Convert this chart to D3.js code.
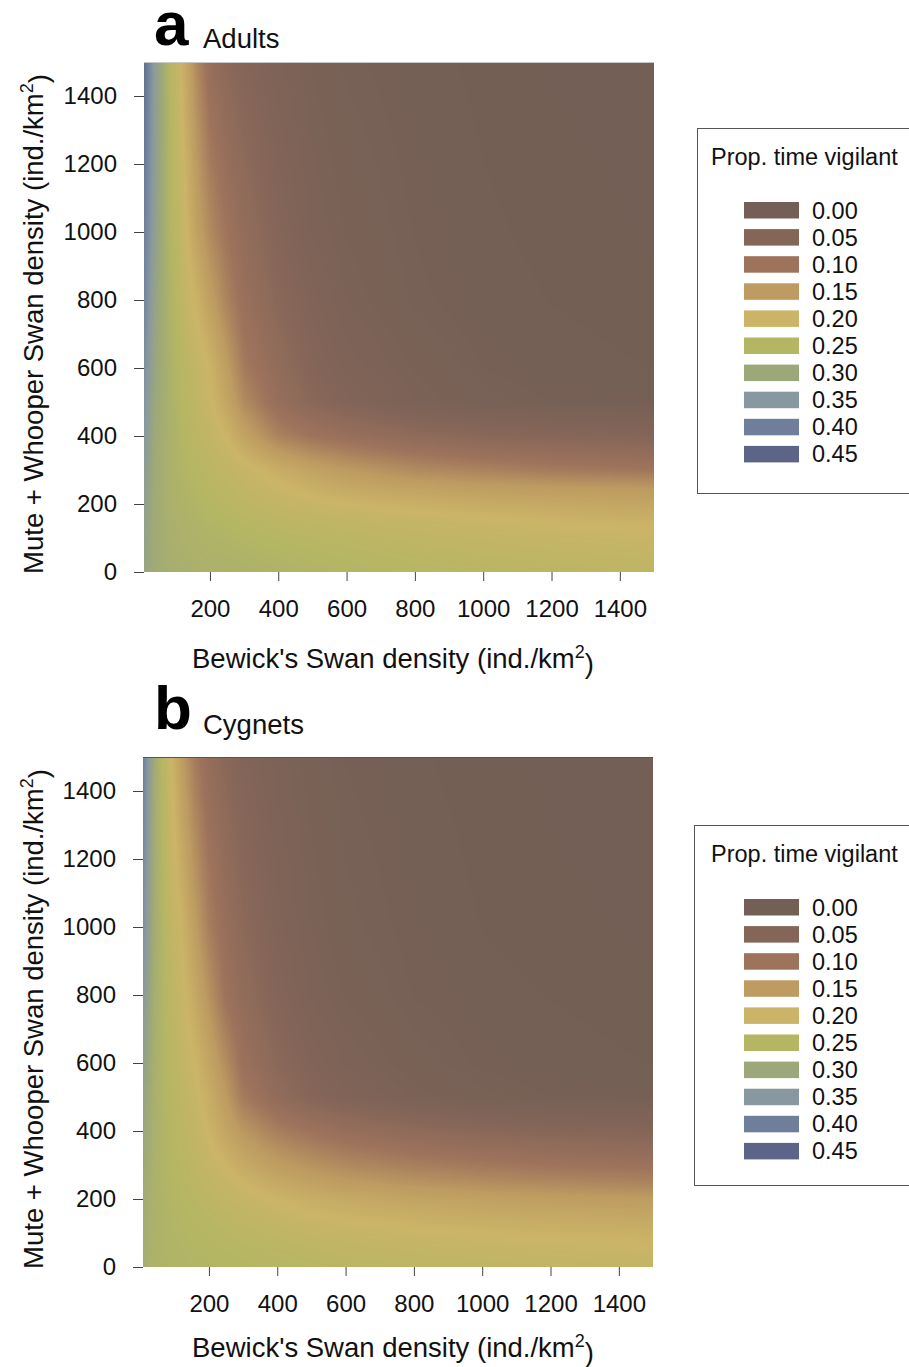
<!DOCTYPE html>
<html>
<head>
<meta charset="utf-8">
<script src="https://cdnjs.cloudflare.com/ajax/libs/d3/7.8.5/d3.min.js"></script>
<style>
  body { margin: 0; background: #fff; }
  svg { display: block; font-family: "Liberation Sans", Arial, sans-serif; }
</style>
</head>
<body>
<svg id="chart" width="909" height="1367"></svg>
<script>
// grid columns: Bewick's Swan density (ind./km2)
var bewickDensity = [7, 40, 80, 120, 160, 200, 250, 300, 400, 500, 600, 800, 1000, 1200, 1500];
// grid rows: Mute + Whooper Swan density (ind./km2), top of the plot first
var muteWhooperDensity = [1500, 1000, 800, 600, 500, 400, 300, 250, 200, 150, 100, 50, 0];

// predicted proportion of time vigilant
var vigilantAdults = [
  [0.43, 0.335, 0.255, 0.19, 0.13, 0.085, 0.063, 0.05, 0.032, 0.02, 0.012, 0.006, 0.003, 0.001, 0.0],
  [0.40, 0.325, 0.26, 0.215, 0.165, 0.13, 0.10, 0.078, 0.05, 0.03, 0.02, 0.01, 0.005, 0.003, 0.001],
  [0.39, 0.315, 0.265, 0.225, 0.195, 0.16, 0.12, 0.09, 0.06, 0.04, 0.025, 0.012, 0.006, 0.004, 0.002],
  [0.37, 0.305, 0.27, 0.24, 0.22, 0.197, 0.155, 0.11, 0.075, 0.05, 0.035, 0.02, 0.01, 0.006, 0.004],
  [0.36, 0.30, 0.27, 0.245, 0.225, 0.205, 0.17, 0.13, 0.085, 0.06, 0.045, 0.025, 0.015, 0.01, 0.008],
  [0.35, 0.295, 0.27, 0.25, 0.235, 0.22, 0.198, 0.165, 0.12, 0.10, 0.088, 0.07, 0.06, 0.055, 0.05],
  [0.34, 0.29, 0.27, 0.255, 0.245, 0.235, 0.225, 0.212, 0.185, 0.165, 0.15, 0.13, 0.12, 0.11, 0.103],
  [0.335, 0.29, 0.27, 0.26, 0.25, 0.24, 0.232, 0.222, 0.204, 0.188, 0.175, 0.162, 0.155, 0.15, 0.146],
  [0.33, 0.29, 0.27, 0.262, 0.255, 0.248, 0.24, 0.232, 0.218, 0.208, 0.20, 0.19, 0.182, 0.176, 0.17],
  [0.325, 0.29, 0.272, 0.265, 0.26, 0.255, 0.25, 0.245, 0.235, 0.228, 0.222, 0.212, 0.205, 0.198, 0.192],
  [0.32, 0.29, 0.273, 0.268, 0.264, 0.26, 0.256, 0.252, 0.245, 0.24, 0.235, 0.226, 0.219, 0.213, 0.207],
  [0.315, 0.29, 0.275, 0.27, 0.267, 0.265, 0.262, 0.259, 0.254, 0.25, 0.245, 0.236, 0.23, 0.224, 0.218],
  [0.31, 0.29, 0.277, 0.273, 0.27, 0.268, 0.266, 0.264, 0.26, 0.255, 0.251, 0.245, 0.24, 0.235, 0.228]
];

// same for panel b
var vigilantCygnets = [
  [0.40, 0.29, 0.215, 0.155, 0.11, 0.08, 0.06, 0.045, 0.028, 0.017, 0.01, 0.005, 0.002, 0.001, 0.0],
  [0.37, 0.285, 0.235, 0.197, 0.155, 0.115, 0.085, 0.065, 0.04, 0.025, 0.015, 0.008, 0.004, 0.002, 0.001],
  [0.35, 0.28, 0.24, 0.21, 0.175, 0.14, 0.097, 0.075, 0.048, 0.03, 0.02, 0.01, 0.006, 0.004, 0.002],
  [0.325, 0.275, 0.245, 0.222, 0.20, 0.17, 0.132, 0.093, 0.062, 0.042, 0.03, 0.016, 0.009, 0.006, 0.004],
  [0.315, 0.273, 0.248, 0.228, 0.21, 0.185, 0.15, 0.11, 0.075, 0.053, 0.04, 0.024, 0.015, 0.01, 0.008],
  [0.305, 0.272, 0.25, 0.235, 0.22, 0.198, 0.17, 0.145, 0.115, 0.098, 0.085, 0.07, 0.06, 0.055, 0.05],
  [0.295, 0.27, 0.252, 0.24, 0.228, 0.215, 0.198, 0.18, 0.155, 0.14, 0.128, 0.115, 0.107, 0.10, 0.095],
  [0.29, 0.268, 0.254, 0.244, 0.235, 0.224, 0.21, 0.198, 0.176, 0.162, 0.152, 0.14, 0.132, 0.126, 0.12],
  [0.288, 0.266, 0.255, 0.247, 0.24, 0.232, 0.222, 0.213, 0.198, 0.186, 0.178, 0.168, 0.162, 0.157, 0.152],
  [0.285, 0.265, 0.256, 0.25, 0.245, 0.24, 0.233, 0.226, 0.212, 0.202, 0.196, 0.187, 0.181, 0.177, 0.172],
  [0.282, 0.265, 0.257, 0.253, 0.249, 0.246, 0.241, 0.236, 0.226, 0.218, 0.213, 0.205, 0.199, 0.195, 0.19],
  [0.28, 0.265, 0.258, 0.255, 0.252, 0.25, 0.247, 0.244, 0.237, 0.231, 0.226, 0.219, 0.214, 0.21, 0.205],
  [0.278, 0.265, 0.259, 0.257, 0.255, 0.253, 0.251, 0.249, 0.244, 0.24, 0.236, 0.23, 0.225, 0.222, 0.217]
];

var legendValues = [0.00, 0.05, 0.10, 0.15, 0.20, 0.25, 0.30, 0.35, 0.40, 0.45];
var legendColors = ['#735f55', '#846558', '#9e735c', '#bd9b61', '#cbb467',
                    '#b4b663', '#9ca77a', '#8898a0', '#6f7e9a', '#5c6588'];

var xTicks = [200, 400, 600, 800, 1000, 1200, 1400];
var yTicks = [0, 200, 400, 600, 800, 1000, 1200, 1400];

var svg = d3.select('#chart');
svg.append('rect').attr('width', 909).attr('height', 1367).attr('fill', '#fff');

var color = d3.scaleLinear().domain(legendValues).range(legendColors).clamp(true);

// find grid cell + fraction for a value in an ascending array
var locate = function(arr, v) {
  var i = d3.bisectRight(arr, v) - 1;
  i = Math.max(0, Math.min(arr.length - 2, i));
  var t = (v - arr[i]) / (arr[i + 1] - arr[i]);
  return [i, Math.max(0, Math.min(1, t))];
};

var drawPanel = function(p) {
  var x = d3.scaleLinear().domain([7, 1500]).range([p.left, p.right]);
  var y = d3.scaleLinear().domain([0, 1500]).range([p.bottom, p.top]);

  // surface: each pixel coloured from the grid via the scales
  var ys = muteWhooperDensity.slice().reverse();
  var grid = p.grid.slice().reverse();
  var w = p.right - p.left, h = p.bottom - p.top;
  var canvas = document.createElement('canvas');
  canvas.width = w; canvas.height = h;
  var ctx = canvas.getContext('2d');
  var img = ctx.createImageData(w, h);
  for (var j = 0; j < h; j++) {
    var ly = locate(ys, y.invert(p.top + j + 0.5));
    for (var i = 0; i < w; i++) {
      var lx = locate(bewickDensity, x.invert(p.left + i + 0.5));
      var r0 = grid[ly[0]], r1 = grid[ly[0] + 1];
      var a = r0[lx[0]] * (1 - lx[1]) + r0[lx[0] + 1] * lx[1];
      var b = r1[lx[0]] * (1 - lx[1]) + r1[lx[0] + 1] * lx[1];
      var c = d3.rgb(color(a * (1 - ly[1]) + b * ly[1]));
      var k = (j * w + i) * 4;
      img.data[k] = c.r; img.data[k + 1] = c.g; img.data[k + 2] = c.b; img.data[k + 3] = 255;
    }
  }
  ctx.putImageData(img, 0, 0);
  svg.append('image')
    .attr('x', p.left).attr('y', p.top)
    .attr('width', w).attr('height', h)
    .attr('preserveAspectRatio', 'none')
    .attr('href', canvas.toDataURL());

  svg.append('line')
    .attr('x1', p.left).attr('x2', p.right)
    .attr('y1', p.top + 0.5).attr('y2', p.top + 0.5)
    .attr('stroke', p.topLine).attr('stroke-width', 1.2);

  // axes
  var gx = svg.append('g')
    .attr('transform', 'translate(0,' + p.bottom + ')')
    .call(d3.axisBottom(x).tickValues(xTicks).tickFormat(d3.format('d')).tickSize(9).tickPadding(17));
  var gy = svg.append('g')
    .attr('transform', 'translate(' + p.left + ',0)')
    .call(d3.axisLeft(y).tickValues(yTicks).tickFormat(d3.format('d')).tickSize(10).tickPadding(17));
  [gx, gy].forEach(function(g) {
    g.select('.domain').remove();
    g.selectAll('.tick line').attr('stroke', '#444');
    g.selectAll('.tick text')
      .attr('fill', '#111')
      .style('font-size', '24px')
      .style('font-family', '"Liberation Sans", Arial, sans-serif');
  });
  gx.selectAll('.tick text').attr('dy', null).attr('y', 0)
    .attr('transform', 'translate(0,' + (p.tickBase - p.bottom) + ')');

  // axis titles
  var xt = svg.append('text')
    .attr('x', 393).attr('y', p.xTitleBase)
    .attr('text-anchor', 'middle')
    .style('font-size', '27.5px').attr('fill', '#111');
  xt.append('tspan').text("Bewick's Swan density (ind./km");
  xt.append('tspan').text('2').attr('dy', '-0.55em').style('font-size', '18px');
  xt.append('tspan').text(')').attr('dy', '0.55em');

  var yt = svg.append('text')
    .attr('transform', 'translate(43,' + p.yTitleMid + ') rotate(-90)')
    .attr('text-anchor', 'middle')
    .style('font-size', '27.5px').attr('fill', '#111');
  yt.append('tspan').text('Mute + Whooper Swan density (ind./km');
  yt.append('tspan').text('2').attr('dy', '-0.55em').style('font-size', '18px');
  yt.append('tspan').text(')').attr('dy', '0.55em');

  // panel letter and label
  svg.append('text')
    .attr('x', 154).attr('y', p.letterBase)
    .style('font-size', '62px').style('font-weight', 'bold')
    .attr('fill', '#000').text(p.letter);
  svg.append('text')
    .attr('x', 203).attr('y', p.labelBase)
    .style('font-size', '27.5px').attr('fill', '#111').text(p.label);

  // legend
  var lg = svg.append('g');
  lg.append('rect')
    .attr('x', p.legX + 0.5).attr('y', p.legY + 0.5)
    .attr('width', 300).attr('height', p.legH)
    .attr('fill', 'none').attr('stroke', '#555').attr('stroke-width', 1);
  lg.append('text')
    .attr('x', 711).attr('y', p.legY + 37)
    .style('font-size', '23.5px').attr('fill', '#111')
    .text('Prop. time vigilant');
  var rows = lg.selectAll('g.row')
    .data(legendValues)
    .enter()
    .append('g')
    .attr('class', 'row')
    .attr('transform', function(d, i) { return 'translate(0,' + (p.legY + 74 + i * 27.1) + ')'; });
  rows.append('rect')
    .attr('x', 744).attr('y', 0)
    .attr('width', 55).attr('height', 16.5)
    .attr('fill', function(d) { return color(d); });
  rows.append('text')
    .attr('x', 812).attr('y', 16.5)
    .style('font-size', '23.5px').attr('fill', '#111')
    .text(function(d) { return d.toFixed(2); });
};

drawPanel({
  grid: vigilantAdults, letter: 'a', label: 'Adults',
  left: 144, right: 654, top: 62, bottom: 572,
  topLine: '#c8c8c8', tickBase: 617, xTitleBase: 668, yTitleMid: 324,
  letterBase: 45, labelBase: 48,
  legX: 697, legY: 128, legH: 365
});

drawPanel({
  grid: vigilantCygnets, letter: 'b', label: 'Cygnets',
  left: 143, right: 653, top: 757, bottom: 1267,
  topLine: '#555', tickBase: 1312, xTitleBase: 1357, yTitleMid: 1019,
  letterBase: 729, labelBase: 734,
  legX: 694, legY: 825, legH: 360
});
</script>
</body>
</html>
